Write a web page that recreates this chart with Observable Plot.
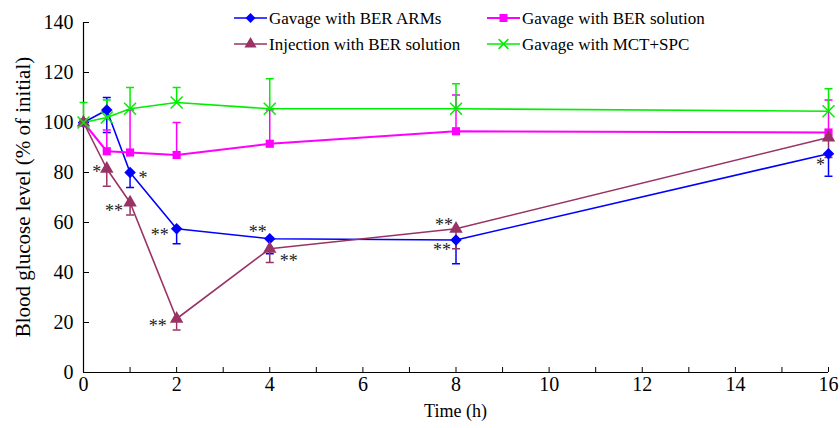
<!DOCTYPE html>
<html>
<head>
<meta charset="utf-8">
<script src="https://cdn.jsdelivr.net/npm/d3@7"></script>
<script src="https://cdn.jsdelivr.net/npm/@observablehq/plot@0.6"></script>
<style>
  html, body { margin: 0; padding: 0; background: #fff; }
  #chart { width: 840px; height: 428px; }
</style>
</head>
<body>
<div id="chart"></div>
<script>
// ---------- data ----------
const times = [0, 0.5, 1, 2, 4, 8, 16];
const seriesNames = ["Gavage with BER ARMs", "Gavage with BER solution", "Injection with BER solution", "Gavage with MCT+SPC"];

const armsMean = [100, 105, 80, 57.5, 53.5, 53, 87.5];
const armsLow  = [null, 96, 74, 51.5, 47.5, 43.5, 78.5];
const armsHigh = [null, 110, null, null, null, null, null];

const solMean = [100, 88.5, 88, 87, 91.5, 96.5, 96];
const solLow  = [null, null, null, null, null, null, null];
const solHigh = [null, 97, 105, 100, 105, 111, 109];

const injMean = [100, 81.5, 68, 21.5, 49.5, 57.5, 94];
const injLow  = [null, 74.5, 63, 17, 44, 49.5, 86];
const injHigh = [null, null, null, null, null, null, null];

const mctMean = [100, 102, 105.5, 108, 105.5, 105.5, 104.5];
const mctLow  = [null, null, null, null, null, null, null];
const mctHigh = [108, 109, 114, 114, 117.5, 115.5, 113.5];

const yTicks = [0, 20, 40, 60, 80, 100, 120, 140];
const xLabelTicks = [0, 2, 4, 6, 8, 10, 12, 14, 16];
const xMinorTicks = [0, 1, 2, 3, 4, 5, 6, 7, 8, 9, 10, 11, 12, 13, 14, 15, 16];

// significance marks: series index, time, label
const sigSeries = [2, 0, 2, 0, 2, 0, 2, 2, 0, 0];
const sigTimes  = [0.5, 1, 1, 2, 2, 4, 4, 8, 8, 16];
const sigLabels = ["*", "*", "**", "**", "**", "**", "**", "**", "**", "*"];

// ---------- styles ----------
const colors = ["#0000ff", "#ff00ff", "#993366", "#00ee00"];
const symbols = ["diamond2", "square", "triangle", "times"];
const sigOffsets = [[-10, 0], [13, 2], [-16, 5], [-17, 3], [-19, 4], [-12, -10], [19, 9], [-12, -7], [-14, 7], [-8, 8]];
const SERIF = "'Liberation Serif', 'Times New Roman', serif";

const means = [armsMean, solMean, injMean, mctMean];
const lows = [armsLow, solLow, injLow, mctLow];
const highs = [armsHigh, solHigh, injHigh, mctHigh];

const points = [];
const errs = [];
means.forEach((m, s) => {
  times.forEach((t, i) => {
    points.push({s, t, v: m[i]});
    if (lows[s][i] != null) errs.push({s, t, v: m[i], e: lows[s][i]});
    if (highs[s][i] != null) errs.push({s, t, v: m[i], e: highs[s][i]});
  });
});
const sigs = sigLabels.map((lab, k) => {
  const s = sigSeries[k];
  const i = times.indexOf(sigTimes[k]);
  return {label: lab, t: sigTimes[k], v: means[s][i], k};
});

const W = 840, H = 428;
const mL = 83, mR = 12, mT = 22, mB = 56;
const plotW = W - mL - mR, plotH = H - mT - mB;

const capSymbol = {
  draw(context, size) {
    const r = Math.sqrt(size / Math.PI);
    context.moveTo(-r, 0);
    context.lineTo(r, 0);
  }
};

const marks = [];
marks.push(Plot.tickY(yTicks, {y: d => d, stroke: "#000", strokeWidth: 1, insetRight: plotW - 6}));
marks.push(Plot.tickX(xMinorTicks, {x: d => d, stroke: "#000", strokeWidth: 1, insetTop: plotH - 5}));
marks.push(Plot.ruleX([0], {stroke: "#000", strokeWidth: 1.2}));
marks.push(Plot.ruleY([0], {stroke: "#000", strokeWidth: 1.2}));
[0, 1, 2, 3].forEach(s => {
  const d = errs.filter(e => e.s === s);
  marks.push(Plot.ruleX(d, {x: "t", y1: "v", y2: "e", stroke: colors[s], strokeWidth: 1.5}));
  marks.push(Plot.dot(d, {x: "t", y: "e", symbol: capSymbol, r: 4, stroke: colors[s], strokeWidth: 1.5, fill: "none"}));
});
[0, 1, 2, 3].forEach(s => {
  marks.push(Plot.line(points.filter(p => p.s === s), {x: "t", y: "v", stroke: colors[s], strokeWidth: s === 1 ? 2 : 1.6}));
});
[0, 1, 2, 3].forEach(s => {
  const d = points.filter(p => p.s === s);
  if (symbols[s] === "times") {
    marks.push(Plot.dot(d, {x: "t", y: "v", symbol: "times", r: 5.5, stroke: colors[s], strokeWidth: 1.5, fill: "none"}));
  } else {
    const r = symbols[s] === "triangle" ? 5 : (symbols[s] === "square" ? 4.6 : 5.2);
    marks.push(Plot.dot(d, {x: "t", y: "v", symbol: symbols[s], r, fill: colors[s], stroke: "none"}));
  }
});
marks.push(Plot.text(sigs, {
  x: "t", y: "v", text: "label",
  fill: "#222", fontSize: 18, fontFamily: SERIF
}));

const chart = Plot.plot({
  width: W, height: H,
  marginLeft: mL, marginRight: mR, marginTop: mT, marginBottom: mB,
  style: {fontFamily: SERIF, fontSize: "20px", background: "#fff", color: "#000"},
  x: {domain: [0, 16], ticks: xLabelTicks, tickSize: 0, tickPadding: 4, label: null, tickFormat: d => String(d)},
  y: {domain: [0, 140], ticks: yTicks, tickSize: 0, tickPadding: 10, label: null},
  marks
});
document.getElementById("chart").appendChild(chart);

const svg = d3.select(chart);
const xs = d3.scaleLinear().domain([0, 16]).range([mL, W - mR]);
const ys = d3.scaleLinear().domain([0, 140]).range([H - mB, mT]);
svg.selectAll("g[aria-label='text'] text").each(function(_, k) {
  const o = sigOffsets[k];
  const s = sigs[k];
  d3.select(this)
    .attr("transform", null)
    .attr("x", xs(s.t) + o[0])
    .attr("y", ys(s.v) + o[1] + 9)
    .attr("dy", null)
    .attr("text-anchor", "middle");
});

svg.append("text")
  .attr("transform", `translate(23,${mT + plotH / 2}) rotate(-90)`)
  .attr("text-anchor", "middle")
  .attr("dominant-baseline", "central")
  .style("font-family", SERIF)
  .style("font-size", "21px")
  .attr("fill", "#000")
  .text("Blood glucose level (% of initial)");
svg.append("text")
  .attr("x", mL + plotW / 2)
  .attr("y", 411)
  .attr("text-anchor", "middle")
  .attr("dominant-baseline", "central")
  .style("font-family", SERIF)
  .style("font-size", "18px")
  .attr("fill", "#000")
  .text("Time (h)");

const legendPos = [[234, 18], [487, 18], [234, 44], [487, 44]];
seriesNames.forEach((name, s) => {
  const [lx, ly] = legendPos[s];
  const g = svg.append("g");
  g.append("line").attr("x1", lx).attr("x2", lx + 33).attr("y1", ly).attr("y2", ly)
    .attr("stroke", colors[s]).attr("stroke-width", s === 1 ? 2 : 1.6);
  const symType = {diamond2: d3.symbolDiamond2, square: d3.symbolSquare, triangle: d3.symbolTriangle, times: d3.symbolTimes}[symbols[s]];
  const area = Math.PI * 4.5 * 4.5;
  const path = g.append("path").attr("d", d3.symbol(symType, area)()).attr("transform", `translate(${lx + 16.5},${ly})`);
  if (symbols[s] === "times") path.attr("fill", "none").attr("stroke", colors[s]).attr("stroke-width", 1.5);
  else path.attr("fill", colors[s]);
  g.append("text").attr("x", lx + 35).attr("y", ly).attr("dominant-baseline", "central")
    .attr("text-anchor", "start")
    .style("font-family", SERIF).style("font-size", "17px").attr("fill", "#000").text(name);
});
</script>
</body>
</html>
